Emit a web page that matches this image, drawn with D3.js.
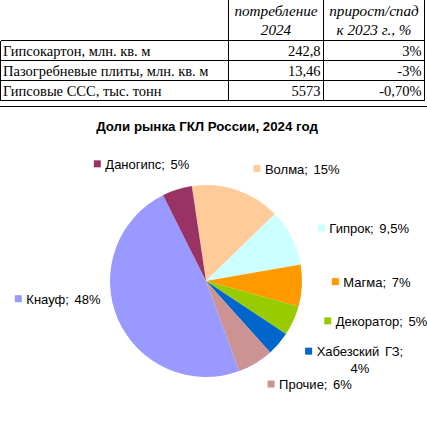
<!DOCTYPE html>
<html>
<head>
<meta charset="utf-8">
<script src="https://cdn.jsdelivr.net/npm/d3@7"></script>
<style>
  body { margin: 0; background: #fff; }
  svg { display: block; }
  .cell { font-family: "Liberation Serif", "Times New Roman", serif; font-size: 14.5px; fill: #000; }
  .head { font-style: italic; font-size: 15.2px; }
  .lbl { font-family: "Liberation Sans", Arial, sans-serif; font-size: 13px; fill: #000; word-spacing: 2px; }
  .title { font-family: "Liberation Sans", Arial, sans-serif; font-size: 13.3px; font-weight: bold; }
</style>
</head>
<body>
<div class="chart"></div>
<script>
// table data
var rowNames = ["Гипсокартон, млн. кв. м", "Пазогребневые плиты, млн. кв. м", "Гипсовые ССС, тыс. тонн"];
var consumption = ["242,8", "13,46", "5573"];
var growth = ["3%", "-3%", "-0,70%"];
var headConsumption = ["потребление", "2024"];
var headGrowth = ["прирост/спад", "к 2023 г., %"];

// pie data
var companies = ["Волма", "Гипрок", "Магма", "Декоратор", "Хабезский ГЗ", "Прочие", "Кнауф", "Даногипс"];
var shares = [15, 9.5, 7, 5, 4, 6, 48, 5];
var colors = ["#FFCC99", "#CCFFFF", "#FF9900", "#99CC00", "#0066CC", "#CC9393", "#9999FF", "#993366"];
var wrapped = ["Хабезский ГЗ"];

var W = 427, H = 423;
var svg = d3.select(".chart").append("svg")
    .attr("width", W).attr("height", H);

// ---- table ----
var colX = [0.5, 228.5, 323.5, 424.5];
var rowY = [40.5, 60.5, 80.5, 100.5];

var grid = svg.append("g").attr("stroke", "#000").attr("stroke-width", 1).attr("shape-rendering", "crispEdges");
rowY.forEach(function(y) {
  grid.append("line").attr("x1", colX[0]).attr("x2", colX[3]).attr("y1", y).attr("y2", y);
});
grid.append("line").attr("x1", colX[0]).attr("x2", colX[0]).attr("y1", rowY[0]).attr("y2", rowY[3]);
[1, 2, 3].forEach(function(i) {
  grid.append("line").attr("x1", colX[i]).attr("x2", colX[i]).attr("y1", 0).attr("y2", rowY[3]);
});
grid.append("line").attr("x1", 0).attr("x2", W).attr("y1", 106.5).attr("y2", 106.5);

// header
[headConsumption, headGrowth].forEach(function(lines, c) {
  var mid = (colX[c + 1] + colX[c + 2]) / 2;
  lines.forEach(function(t, k) {
    svg.append("text").attr("class", "cell head")
      .attr("x", mid).attr("y", 16 + k * 19)
      .attr("text-anchor", "middle").text(t);
  });
});

// rows
rowNames.forEach(function(name, i) {
  var base = rowY[i] + 15.5;
  svg.append("text").attr("class", "cell").attr("x", 3).attr("y", base).text(name);
  svg.append("text").attr("class", "cell").attr("x", colX[2] - 3).attr("y", base)
    .attr("text-anchor", "end").text(consumption[i]);
  svg.append("text").attr("class", "cell").attr("x", colX[3] - 3).attr("y", base)
    .attr("text-anchor", "end").text(growth[i]);
});

// ---- pie ----
svg.append("text").attr("class", "title")
  .attr("x", 207).attr("y", 131).attr("text-anchor", "middle")
  .text("Доли рынка ГКЛ России, 2024 год");

var cx = 206, cy = 281, r = 96;
var start = -8.5 * Math.PI / 180;
var pie = d3.pie().sort(null).startAngle(start).endAngle(start + 2 * Math.PI);
var arcs = pie(shares);
var arc = d3.arc().innerRadius(0).outerRadius(r);
var labelArc = d3.arc().innerRadius(125).outerRadius(125);

var g = svg.append("g").attr("transform", "translate(" + cx + "," + cy + ")");
g.selectAll("path")
  .data(arcs)
  .enter()
  .append("path")
  .attr("d", arc)
  .attr("fill", function(d, i) { return colors[i]; });

// label nudges (Excel best-fit placement)
var nudge = [[11, 6], [4, 4], [4.5, -5.5], [8, -12], [8, -11.5], [0.5, -4], [-73, -32], [-71, 2]];
var fmt = function(v) { return String(v).replace(".", ",") + "%"; };

arcs.forEach(function(d, i) {
  var p = labelArc.centroid(d);
  var sx = p[0] + nudge[i][0], sy = p[1] + nudge[i][1];
  g.append("rect")
    .attr("x", sx - 3.5).attr("y", sy - 3.5)
    .attr("width", 7).attr("height", 7)
    .attr("fill", colors[i]);
  if (wrapped.indexOf(companies[i]) >= 0) {
    var t1 = g.append("text").attr("class", "lbl")
      .attr("x", sx + 8).attr("y", sy + 5).text(companies[i] + ";");
    var w = t1.node().getComputedTextLength();
    g.append("text").attr("class", "lbl")
      .attr("x", sx + 8 + w / 2).attr("y", sy + 21.5)
      .attr("text-anchor", "middle").text(fmt(shares[i]));
  } else {
    g.append("text").attr("class", "lbl")
      .attr("x", sx + 8).attr("y", sy + 5)
      .text(companies[i] + "; " + fmt(shares[i]));
  }
});
</script>
</body>
</html>
